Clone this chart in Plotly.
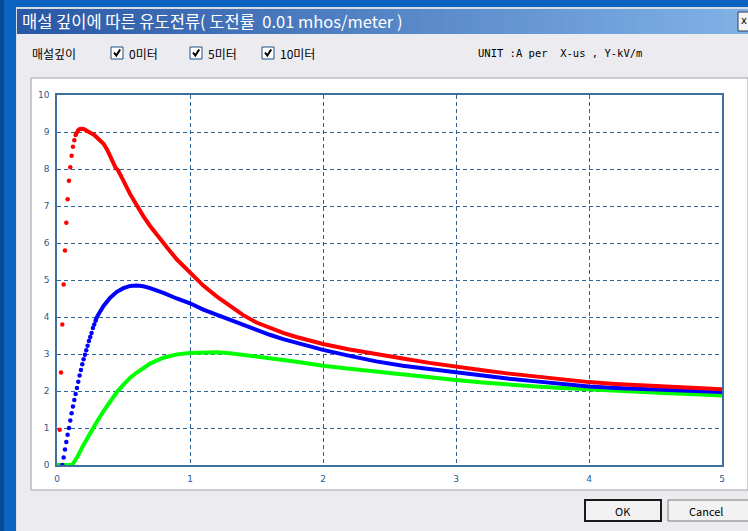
import plotly.graph_objects as go

W, H = 748, 531

# ---------------- data ----------------
# 0 m burial depth (red): sparse steep start drawn as dots, then dense curve
red_dot_x = [0.02, 0.03, 0.04, 0.05, 0.06, 0.07, 0.08, 0.09, 0.10, 0.11, 0.12, 0.13, 0.14]
red_dot_y = [0.95, 2.50, 3.80, 4.88, 5.80, 6.55, 7.18, 7.68, 8.05, 8.36, 8.60, 8.78, 8.92]
red_x = [0.14, 0.15, 0.16, 0.17, 0.18, 0.20, 0.22, 0.25, 0.28, 0.30, 0.33, 0.35, 0.38, 0.40,
         0.42, 0.44, 0.46, 0.48, 0.50, 0.55, 0.60, 0.65, 0.70, 0.75, 0.80, 0.85, 0.90, 0.95,
         1.00, 1.10, 1.20, 1.30, 1.40, 1.50, 1.60, 1.70, 1.80, 1.90, 2.00, 2.20, 2.40, 2.60,
         2.80, 3.00, 3.20, 3.40, 3.60, 3.80, 4.00, 4.20, 4.40, 4.60, 4.80, 5.00]
red_y = [8.92, 9.00, 9.05, 9.08, 9.09, 9.08, 9.05, 8.98, 8.92, 8.86, 8.76, 8.68, 8.50, 8.36,
         8.19, 8.04, 7.96, 7.84, 7.68, 7.32, 7.00, 6.72, 6.46, 6.22, 6.00, 5.78, 5.56, 5.38,
         5.20, 4.85, 4.56, 4.30, 4.05, 3.85, 3.70, 3.57, 3.46, 3.36, 3.27, 3.12, 2.99, 2.88,
         2.76, 2.65, 2.56, 2.47, 2.39, 2.31, 2.24, 2.19, 2.15, 2.11, 2.08, 2.05]

# 5 m burial depth (blue)
blue_dot_x = [0.04, 0.05, 0.06, 0.07, 0.08, 0.09, 0.10, 0.11, 0.12, 0.13, 0.14, 0.15, 0.16,
              0.17, 0.18, 0.19, 0.20, 0.21, 0.22, 0.23, 0.24, 0.25, 0.26, 0.27, 0.28, 0.29]
blue_dot_y = [0.00, 0.20, 0.42, 0.62, 0.82, 1.00, 1.20, 1.40, 1.58, 1.76, 1.92, 2.08, 2.25,
              2.42, 2.57, 2.72, 2.86, 2.98, 3.10, 3.22, 3.35, 3.46, 3.57, 3.70, 3.80, 3.90]
blue_x = [0.29, 0.30, 0.33, 0.35, 0.40, 0.45, 0.50, 0.55, 0.60, 0.65, 0.70, 0.75, 0.80, 0.90,
          1.00, 1.10, 1.20, 1.30, 1.40, 1.50, 1.60, 1.70, 1.80, 1.90, 2.00, 2.20, 2.40, 2.60,
          2.80, 3.00, 3.20, 3.40, 3.60, 3.80, 4.00, 4.20, 4.40, 4.60, 4.80, 5.00]
blue_y = [3.90, 4.00, 4.18, 4.30, 4.52, 4.68, 4.78, 4.84, 4.85, 4.83, 4.78, 4.72, 4.65, 4.50,
          4.37, 4.20, 4.06, 3.92, 3.78, 3.65, 3.52, 3.40, 3.30, 3.20, 3.11, 2.95, 2.80, 2.68,
          2.59, 2.50, 2.42, 2.33, 2.26, 2.19, 2.12, 2.08, 2.05, 2.02, 1.99, 1.97]

# 10 m burial depth (green)
green_x = [0.00, 0.05, 0.11, 0.12, 0.15, 0.20, 0.25, 0.30, 0.35, 0.40, 0.45, 0.50, 0.55, 0.60,
           0.70, 0.80, 0.90, 1.00, 1.10, 1.20, 1.30, 1.40, 1.50, 1.60, 1.70, 1.80, 1.90, 2.00,
           2.20, 2.40, 2.60, 2.80, 3.00, 3.20, 3.40, 3.60, 3.80, 4.00, 4.20, 4.40, 4.60, 4.80, 5.00]
green_y = [0.00, 0.00, 0.00, 0.03, 0.20, 0.55, 0.88, 1.17, 1.46, 1.73, 1.97, 2.17, 2.36, 2.50,
           2.74, 2.90, 2.99, 3.03, 3.05, 3.05, 3.02, 2.98, 2.94, 2.89, 2.84, 2.79, 2.73, 2.68,
           2.60, 2.52, 2.45, 2.37, 2.30, 2.23, 2.17, 2.12, 2.08, 2.04, 2.00, 1.97, 1.94, 1.91, 1.88]

x_ticks = [0, 1, 2, 3, 4, 5]
y_ticks = [0, 1, 2, 3, 4, 5, 6, 7, 8, 9, 10]

title_text = "매설 깊이에 따른 유도전류( 도전률  0.01 mhos/meter )"
depth_label = "매설깊이"
check_labels = ["0미터", "5미터", "10미터"]
unit_text = "UNIT :A per  X-us , Y-kV/m"

# ---------------- helpers (pixel -> paper) ----------------
def px(x):
    return x / W


def py(y):
    return 1 - y / H


shapes = []
annotations = []


def rect(x0, y0, x1, y1, fill, line=None, lw=0, layer="below"):
    shapes.append(dict(type="rect", xref="paper", yref="paper",
                       x0=px(x0), x1=px(x1), y0=py(y1), y1=py(y0),
                       fillcolor=fill, layer=layer,
                       line=dict(color=line or fill, width=lw)))


def text(x, y, s, size=11, color="#000000", xanchor="left", family="Noto Sans CJK KR"):
    annotations.append(dict(xref="paper", yref="paper", x=px(x), y=py(y), text=s,
                            showarrow=False, xanchor=xanchor, yanchor="middle",
                            font=dict(size=size, color=color, family=family)))


# desktop blue background
rect(0, 0, W, H, "#0b63c2")
rect(0, 0, 4, H, "#0a4a94")
# dialog border + body
rect(16, 7, W, H, "#d6dbe6")
rect(17, 34, W, H, "#ecebf0")
# title bar gradient
n = 60
c0 = (0x2a, 0x58, 0xa6)
c1 = (0x80, 0xb2, 0xe6)
x_start, x_end = 17, W
for i in range(n):
    t = i / (n - 1)
    c = tuple(int(c0[k] + (c1[k] - c0[k]) * t) for k in range(3))
    xa = x_start + (x_end - x_start) * i / n
    xb = x_start + (x_end - x_start) * (i + 1) / n + 0.6
    rect(xa, 9, xb, 34, "#%02x%02x%02x" % c)
# close button (partially visible)
rect(738, 12, 752, 31, "#f4f4f4", "#2c3c5c", 1)
text(743.5, 21, "x", 10, "#000000", xanchor="center", family="DejaVu Sans")
# title
text(20, 21, title_text, 16.5, "#ffffff")

# checkbox row
text(30, 53, depth_label, 12)
boxes = [111, 190, 262]
for bx, lab in zip(boxes, check_labels):
    rect(bx, 47, bx + 12, 59, "#ffffff", "#1c5180", 1)
    shapes.append(dict(type="path", xref="paper", yref="paper",
                       path="M %f,%f L %f,%f L %f,%f" % (px(bx + 3), py(52.5), px(bx + 5.3), py(55.5),
                                                         px(bx + 9.2), py(49.5)),
                       line=dict(color="#000000", width=2)))
    text(bx + 16, 53, lab, 12)
text(476, 53, unit_text, 10.5, "#000000", family="DejaVu Sans Mono")

# white chart panel
rect(31, 78, W, 490, "#ffffff", "#a0a0a0", 1)

# buttons
rect(585, 500, 661, 521, "#f2f2f2", "#1a1a1a", 2, layer="above")
text(623, 510.5, "OK", 11, xanchor="center")
rect(668, 500, 752, 521, "#f2f2f2", "#7a7a7a", 1, layer="above")
text(706, 510.5, "Cancel", 11, xanchor="center")

# ---------------- chart ----------------
fig = go.Figure()
fig.add_trace(go.Scatter(x=green_x, y=green_y, mode="lines",
                         line=dict(color="#00ff00", width=4), showlegend=False))
fig.add_trace(go.Scatter(x=blue_x, y=blue_y, mode="lines",
                         line=dict(color="#0000ff", width=4), showlegend=False))
fig.add_trace(go.Scatter(x=blue_dot_x, y=blue_dot_y, mode="markers",
                         marker=dict(color="#0000ff", size=4.5), showlegend=False))
fig.add_trace(go.Scatter(x=red_x, y=red_y, mode="lines",
                         line=dict(color="#ff0000", width=4), showlegend=False))
fig.add_trace(go.Scatter(x=red_dot_x, y=red_dot_y, mode="markers",
                         marker=dict(color="#ff0000", size=4.5), showlegend=False))

axis_common = dict(showgrid=True, gridcolor="#2e6396", gridwidth=1, griddash="4px,3px",
                   zeroline=False, showline=True, linecolor="#3d6f9f", linewidth=1.5,
                   mirror=True, ticks="", fixedrange=True, automargin=False,
                   tickfont=dict(size=9, color="#2d5a8a", family="DejaVu Sans"))

fig.update_layout(
    width=W, height=H, autosize=False,
    margin=dict(l=0, r=0, t=0, b=0, pad=0),
    paper_bgcolor="#0b63c2", plot_bgcolor="rgba(0,0,0,0)",
    shapes=shapes, annotations=annotations,
    xaxis=dict(domain=[px(57), px(722)], range=[0, 5], tickvals=x_ticks, ticklabelstandoff=4,
               **axis_common),
    yaxis=dict(domain=[py(465), py(95)], range=[0, 10], tickvals=y_ticks, ticklabelstandoff=4,
               **axis_common),
)

fig.write_html("out.html")
